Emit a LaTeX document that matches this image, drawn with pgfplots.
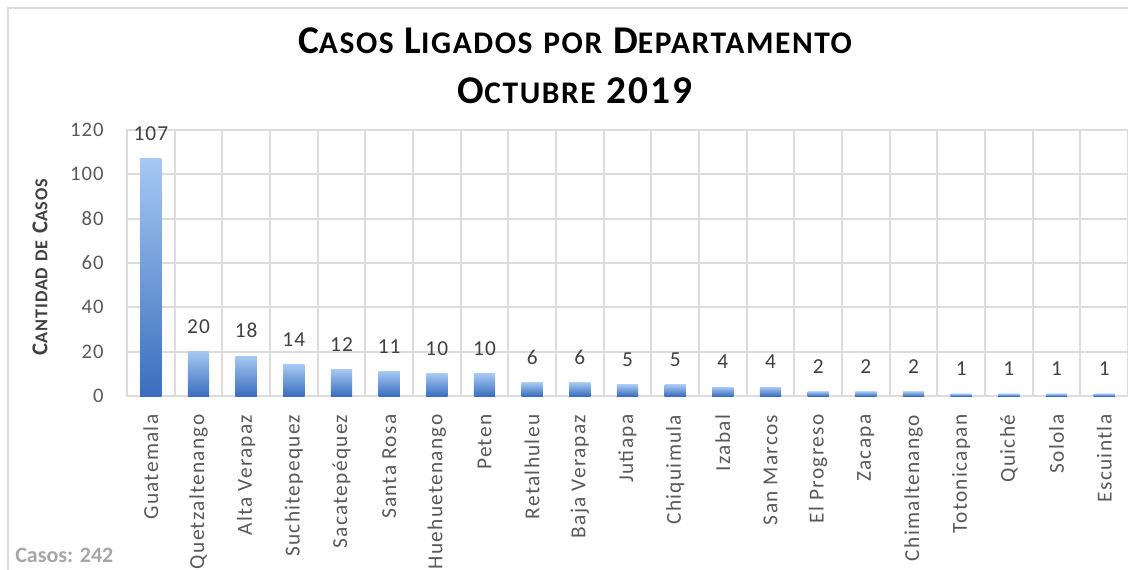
\documentclass[border=0pt]{standalone}
\usepackage{fontspec}
\setmainfont{Carlito}
\newfontfamily\spaced[LetterSpace=5]{Carlito}
\newfontfamily\spacedlab[LetterSpace=6]{Carlito}
\usepackage{pgfplots}
\usepackage{pgfplotstable}
\pgfplotsset{compat=1.18}
\definecolor{gridgray}{HTML}{DCDCDC}
\definecolor{ticktext}{HTML}{595959}
\definecolor{labtext}{HTML}{404040}
\definecolor{bartop}{HTML}{A6C8F3}
\definecolor{barbot}{HTML}{3A6EBD}
\definecolor{footgray}{HTML}{A6A6A6}
\newcommand\smT[1]{{\fontsize{23.6}{23.6}\selectfont #1}}
\newcommand\smY[1]{{\fontsize{13.6}{13.6}\selectfont #1}}

% casos por departamento, octubre 2019
\pgfplotstableread{
x  casos
0  107
1  20
2  18
3  14
4  12
5  11
6  10
7  10
8  6
9  6
10 5
11 5
12 4
13 4
14 2
15 2
16 2
17 1
18 1
19 1
20 1
}\casos

\begin{document}
\begin{tikzpicture}
\begin{axis}[
  scale only axis, width=750.75pt, height=199.5pt,
  xmin=-0.5, xmax=20.5, ymin=0, ymax=120,
  ytick={0,20,...,120},
  xtick={0,...,20},
  xticklabels={Guatemala, Quetzaltenango, Alta Verapaz, Suchitepequez, Sacatepéquez, Santa Rosa, Huehuetenango, Peten, Retalhuleu, Baja Verapaz, Jutiapa, Chiquimula, Izabal, San Marcos, El Progreso, Zacapa, Chimaltenango, Totonicapan, Quiché, Solola, Escuintla},
  minor xtick={0.5,1.5,...,19.5},
  xminorgrids=true, ymajorgrids=true,
  grid style={gridgray, line width=1.4pt},
  minor grid style={gridgray, line width=1.4pt},
  axis line style={gridgray, line width=1.4pt},
  major tick length=0pt, minor tick length=0pt,
  /pgf/number format/assume math mode=true,
  yticklabel style={font=\spaced\fontsize{15.5}{15.5}\selectfont, text=ticktext},
  yticklabel shift=14pt,
  xticklabel style={font=\spacedlab\fontsize{16}{16}\selectfont, text=ticktext, rotate=90, anchor=east},
  xticklabel shift=10.5pt,
  nodes near coords,
  nodes near coords style={font=\spaced\fontsize{16}{16}\selectfont, text=labtext, anchor=south, inner sep=0pt, yshift=13.5pt},
]
% one \addplot per bar so that each bar gets its own gradient
\pgfplotsinvokeforeach{0,...,20}{
  \addplot[ybar, bar width=16pt, bar shift=0pt, draw=none, top color=bartop, bottom color=barbot,
    restrict x to domain=#1:#1] table[x=x, y=casos] {\casos};
}
\end{axis}
\node[anchor=base] at (336pt,257.25pt) {\spaced\bfseries\fontsize{29.5}{29.5}\selectfont C\smT{ASOS} L\smT{IGADOS} \smT{POR} D\smT{EPARTAMENTO}};
\node[anchor=base] at (336pt,219.75pt) {\spaced\bfseries\fontsize{29.5}{29.5}\selectfont O\smT{CTUBRE} 2019};
\node[rotate=90, text=labtext] at (-65.25pt,96.75pt) {\spaced\bfseries\fontsize{17}{17}\selectfont C\smY{ANTIDAD} \smY{DE} C\smY{ASOS}};
\node[anchor=base west, text=footgray, inner sep=0pt] at (-84pt,-124.5pt) {\bfseries\fontsize{16.5}{16.5}\selectfont Casos: 242};
\draw[gridgray, line width=1.3pt] (-89.25pt,-140pt) -- (-89.25pt,291pt) -- (760pt,291pt);
\pgfresetboundingbox
\useasboundingbox (-95.25pt,-129.75pt) rectangle (750.75pt,297pt);
\end{tikzpicture}
\end{document}
